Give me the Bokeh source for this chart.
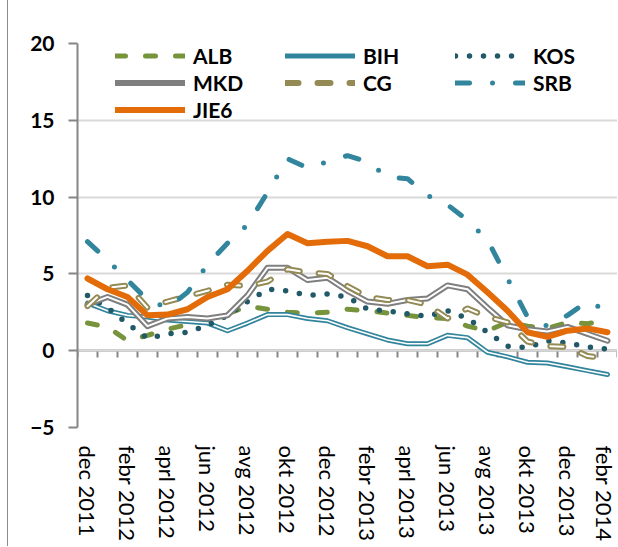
from bokeh.plotting import figure
from bokeh.models import (Range1d, LinearAxis, FixedTicker, Legend, LegendItem,
                          ColumnDataSource, InlineStyleSheet)
from bokeh.embed import file_html
from bokeh.resources import INLINE

# ---------------- data ----------------
months = ["dec 2011", "jan 2012", "febr 2012", "mart 2012", "aprl 2012", "maj 2012",
          "jun 2012", "jul 2012", "avg 2012", "sept 2012", "okt 2012", "nov 2012",
          "dec 2012", "jan 2013", "febr 2013", "mart 2013", "aprl 2013", "maj 2013",
          "jun 2013", "jul 2013", "avg 2013", "sept 2013", "okt 2013", "nov 2013",
          "dec 2013", "jan 2014", "febr 2014"]
tick_labels = ["dec 2011", "febr 2012", "aprl 2012", "jun 2012", "avg 2012", "okt 2012",
               "dec 2012", "febr 2013", "aprl 2013", "jun 2013", "avg 2013", "okt 2013",
               "dec 2013", "febr 2014"]
y_ticks = [-5, 0, 5, 10, 15, 20]

ALB = [1.8, 1.55, 0.65, 1.0, 1.4, 1.7, 2.0, 2.4, 2.9, 2.7, 2.5, 2.45, 2.5, 2.7, 2.6,
       2.45, 2.3, 2.15, 2.1, 1.6, 1.3, 1.85, 1.6, 1.45, 1.85, 1.75, 2.0]
BIH = [3.1, 2.6, 2.3, 2.2, 2.0, 1.9, 1.8, 1.3, 1.8, 2.35, 2.35, 2.1, 1.95, 1.5, 1.1,
       0.7, 0.45, 0.45, 1.0, 0.85, -0.1, -0.4, -0.75, -0.8, -1.05, -1.3, -1.55]
KOS = [3.6, 2.8, 1.75, 0.8, 1.1, 1.2, 1.65, 2.3, 3.2, 4.0, 3.9, 3.6, 3.7, 3.5, 2.7,
       2.6, 2.4, 2.25, 2.6, 2.1, 1.2, 0.3, 0.2, 0.65, 0.5, 0.25, 0.1]
MKD = [3.0, 3.5, 3.0, 1.6, 2.1, 2.2, 2.1, 2.3, 3.6, 5.4, 5.4, 4.6, 4.75, 3.9, 3.2,
       3.05, 3.3, 3.4, 4.25, 4.0, 2.8, 1.65, 1.4, 1.25, 1.55, 1.1, 0.65]
CG = [2.9, 4.1, 4.25, 2.8, 3.2, 3.55, 3.9, 4.3, 4.2, 4.5, 5.3, 5.1, 5.0, 4.2, 3.5,
      3.3, 3.3, 3.0, 2.1, 2.75, 2.2, 1.85, 0.6, 0.3, 0.25, -0.35, -0.5]
SRB = [7.1, 5.9, 4.6, 3.3, 2.8, 3.8, 5.6, 7.0, 8.2, 10.3, 12.5, 11.9, 12.3, 12.7, 12.3,
       11.3, 11.2, 10.1, 9.5, 8.5, 7.2, 4.7, 2.2, 1.6, 2.3, 3.2, 2.6]
JIE6 = [4.7, 4.0, 3.5, 2.3, 2.35, 2.7, 3.5, 4.0, 5.2, 6.5, 7.6, 7.0, 7.1, 7.15, 6.8,
        6.15, 6.15, 5.5, 5.6, 4.95, 3.8, 2.6, 1.2, 0.9, 1.3, 1.45, 1.2]

# ---------------- figure ----------------
n = len(months)
xs = list(range(n))
src = ColumnDataSource(dict(x=xs, ALB=ALB, BIH=BIH, KOS=KOS, MKD=MKD, CG=CG,
                            SRB=SRB, JIE6=JIE6))

FONT = "Lato"
AXIS_GREY = "#868686"

p = figure(width=617, height=546, output_backend="svg", toolbar_location=None,
           x_range=Range1d(-0.5, n - 0.5), y_range=Range1d(y_ticks[0], y_ticks[-1]),
           x_axis_type=None, min_border_left=77, min_border_right=0,
           min_border_top=43, min_border_bottom=119)
p.outline_line_color = None
p.background_fill_color = "white"
p.border_fill_color = "white"
p.stylesheets = [InlineStyleSheet(css=":host::after { content: ''; position: absolute; "
                                      "left: 7px; top: 0; bottom: 0; "
                                      "border-left: 1px solid #8c8c8c; }")]

# y axis
yax = p.yaxis[0]
yax.ticker = FixedTicker(ticks=y_ticks)
yax.axis_line_color = AXIS_GREY
yax.axis_line_width = 2
yax.major_tick_line_color = AXIS_GREY
yax.major_tick_line_width = 2
yax.major_tick_out = 9
yax.major_tick_in = 0
yax.minor_tick_line_color = None
yax.major_label_text_font = FONT
yax.major_label_text_font_style = "bold"
yax.major_label_text_font_size = "21px"
yax.major_label_text_color = "black"
yax.major_label_standoff = 14
p.ygrid.ticker = FixedTicker(ticks=y_ticks)
p.ygrid.grid_line_color = "#D9D9D9"
p.ygrid.grid_line_width = 2

# x axis crossing at zero: line + category boundary ticks (labels not painted)
zero_axis = LinearAxis(fixed_location=0,
                       ticker=FixedTicker(ticks=[i - 0.5 for i in range(n + 1)]),
                       major_tick_out=7, major_tick_in=0,
                       major_tick_line_color=AXIS_GREY, major_tick_line_width=2,
                       minor_tick_line_color=None,
                       major_label_text_color=None,
                       major_label_text_font_size="2px",
                       axis_line_color=AXIS_GREY, axis_line_width=2,
                       level="underlay")
p.add_layout(zero_axis, "below")

# bottom labels
label_pos = [months.index(t) for t in tick_labels]
lab_axis = LinearAxis(ticker=FixedTicker(ticks=label_pos),
                      major_label_overrides={pos: lab for pos, lab in zip(label_pos, tick_labels)},
                      axis_line_color=None, major_tick_line_color=None,
                      minor_tick_line_color=None,
                      major_label_orientation="vertical",
                      major_label_standoff=12,
                      major_label_text_font=FONT,
                      major_label_text_font_size="22px",
                      major_label_text_color="black")
p.add_layout(lab_axis, "below")

# ---------------- series ----------------
def ln(col, color, width, dash="solid", cap="round"):
    return p.line("x", col, source=src, line_color=color, line_width=width,
                  line_dash=dash, line_cap=cap, line_join="round")

r_alb = ln("ALB", "#77933C", 5, "10 20")
r_bih = ln("BIH", "#31849B", 5)
ln("BIH", "white", 1.6)
r_kos = ln("KOS", "#215968", 5.5, "0 14")
r_mkd = ln("MKD", "#7F7F7F", 6)
ln("MKD", "white", 2)
r_cg = ln("CG", "#948A54", 6, "13 19")
ln("CG", "white", 2, "13 19")
r_srb = ln("SRB", "#31859C", 5, "14 23 0 23")
r_jie = ln("JIE6", "#E36C09", 6)

legend = Legend(items=[LegendItem(label="ALB", renderers=[r_alb]),
                       LegendItem(label="BIH", renderers=[r_bih]),
                       LegendItem(label="KOS", renderers=[r_kos]),
                       LegendItem(label="MKD", renderers=[r_mkd]),
                       LegendItem(label="CG", renderers=[r_cg]),
                       LegendItem(label="SRB", renderers=[r_srb]),
                       LegendItem(label="JIE6", renderers=[r_jie])],
                location=(38, 305), orientation="horizontal", ncols=3,
                glyph_width=70, glyph_height=21, label_width=90, label_height=21,
                label_standoff=8, spacing=2, padding=0, margin=0,
                border_line_color=None, background_fill_alpha=0,
                label_text_font=FONT, label_text_font_style="bold",
                label_text_font_size="21px", label_text_color="black")
p.add_layout(legend)

open("out.html", "w").write(file_html(p, INLINE))
